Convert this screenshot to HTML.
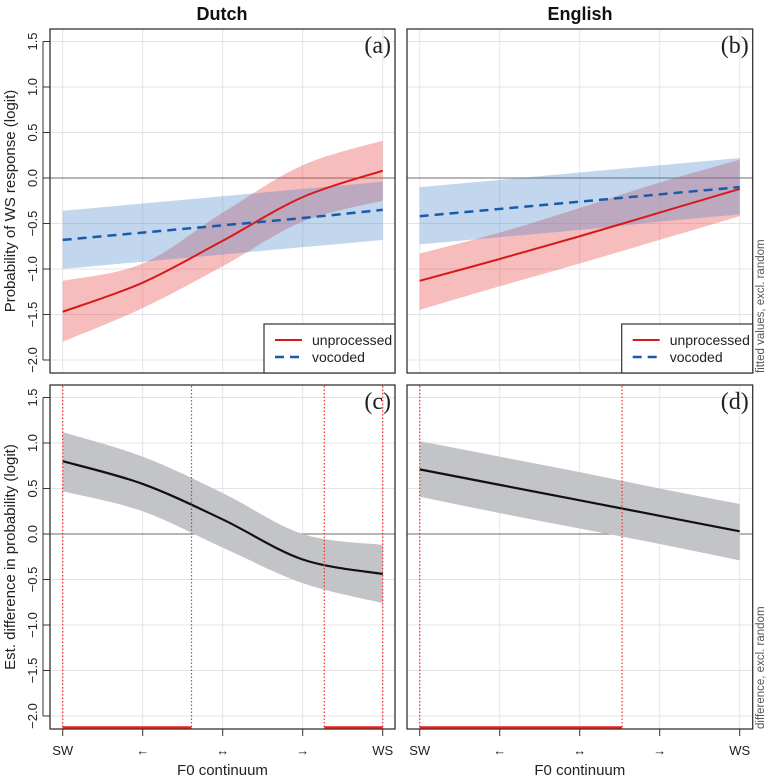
<!DOCTYPE html>
<html><head><meta charset="utf-8"><style>
html,body{margin:0;padding:0;background:#fff;}
svg{display:block;font-family:"Liberation Sans",sans-serif;}
</style></head><body>
<svg id="chart" width="770" height="778" viewBox="0 0 770 778"></svg>
<script>
// ---- data ----
const xCategories = ["SW","\u2190","\u2194","\u2192","WS"];
const yTicks = [1.5,1.0,0.5,0.0,-0.5,-1.0,-1.5,-2.0];
const yTickLabels = ["1.5","1.0","0.5","0.0","\u22120.5","\u22121.0","\u22121.5","\u22122.0"];
// Dutch (a)
const dutchUnproc = [-1.47,-1.15,-0.69,-0.21,0.08];
const dutchUnprocHi = [-1.13,-0.94,-0.38,0.14,0.41];
const dutchUnprocLo = [-1.80,-1.43,-0.97,-0.48,-0.25];
const dutchVoc = [-0.68,-0.60,-0.52,-0.44,-0.35];
const dutchVocHi = [-0.36,-0.28,-0.20,-0.12,-0.04];
const dutchVocLo = [-1.00,-0.92,-0.84,-0.76,-0.68];
// English (b)
const engUnproc = [-1.13,-0.89,-0.64,-0.38,-0.12];
const engUnprocHi = [-0.83,-0.60,-0.33,-0.05,0.20];
const engUnprocLo = [-1.45,-1.19,-0.94,-0.68,-0.42];
const engVoc = [-0.42,-0.34,-0.26,-0.18,-0.10];
const engVocHi = [-0.10,-0.02,0.06,0.14,0.22];
const engVocLo = [-0.73,-0.65,-0.57,-0.48,-0.40];
// Dutch difference (c)
const dutchDiff = [0.80,0.55,0.16,-0.28,-0.44];
const dutchDiffHi = [1.12,0.85,0.45,0.00,-0.12];
const dutchDiffLo = [0.47,0.25,-0.15,-0.54,-0.76];
const dutchSigMarks = [0,1.61,3.27,4];
const dutchSigSegments = [[0,1.61],[3.27,4]];
// English difference (d)
const engDiff = [0.71,0.54,0.37,0.20,0.03];
const engDiffHi = [1.02,0.85,0.68,0.50,0.33];
const engDiffLo = [0.41,0.23,0.06,-0.11,-0.29];
const engSigMarks = [0,2.53];
const engSigSegments = [[0,2.53]];

const NS="http://www.w3.org/2000/svg";
const svg=document.getElementById('chart');
function el(tag,attrs,parent,text){const e=document.createElementNS(NS,tag);for(const k in attrs)e.setAttribute(k,attrs[k]);if(text!==undefined)e.textContent=text;(parent||svg).appendChild(e);return e;}

const panels={
 a:{x0:50,x1:395,y0:29,y1:373},
 b:{x0:407,x1:752.7,y0:29,y1:373},
 c:{x0:50,x1:395,y0:385,y1:729},
 d:{x0:407,x1:752.7,y0:385,y1:729}
};
function xs(p,v){return p.x0+12.7+v*80;}
function ys(p,v){return (p.y0+149)-v*91;}

function smoothPath(pts){
  let d=`M${pts[0][0]},${pts[0][1]}`;
  for(let i=0;i<pts.length-1;i++){
    const p0=pts[i-1]||pts[i],p1=pts[i],p2=pts[i+1],p3=pts[i+2]||p2;
    const c1=[p1[0]+(p2[0]-p0[0])/6,p1[1]+(p2[1]-p0[1])/6];
    const c2=[p2[0]-(p3[0]-p1[0])/6,p2[1]-(p3[1]-p1[1])/6];
    d+=` C${c1[0]},${c1[1]} ${c2[0]},${c2[1]} ${p2[0]},${p2[1]}`;
  }
  return d;
}
function pts(p,arr){return arr.map((v,i)=>[xs(p,i),ys(p,v)]);}
function band(p,hi,lo,fill,name,g){
  const up=pts(p,hi),dn=pts(p,lo).reverse();
  const sd=smoothPath(dn);
  const d=smoothPath(up)+' L'+dn[0][0]+','+dn[0][1]+sd.slice(sd.indexOf(' C'))+' Z';
  const e=el('path',{d:d,fill:fill,stroke:'none'},g);
  
  
}
function line(p,arr,color,w,dash,name,g){
  const a={d:smoothPath(pts(p,arr)),fill:'none',stroke:color,'stroke-width':w};
  if(dash)a['stroke-dasharray']=dash;
  const e=el('path',a,g);
  
  
}

const defs=el('defs',{});
for(const k in panels){const p=panels[k];const cp=el('clipPath',{id:'clip-'+k},defs);el('rect',{x:p.x0,y:p.y0,width:p.x1-p.x0,height:p.y1-p.y0},cp);}

function drawPanel(k){
  const p=panels[k];
  const g=el('g',{'clip-path':`url(#clip-${k})`});
  
  
  xCategories.forEach((c,i)=>{const x=xs(p,i);const gl=el('line',{x1:x,x2:x,y1:p.y0,y2:p.y1,stroke:'#e4e4e8','stroke-width':1},g);
    });
  yTicks.forEach(v=>{const y=ys(p,v);const gl=el('line',{x1:p.x0,x2:p.x1,y1:y,y2:y,stroke:'#e4e4e8','stroke-width':1},g);
    });
  const z=el('line',{x1:p.x0,x2:p.x1,y1:ys(p,0),y2:ys(p,0),stroke:'#8a8a8a','stroke-width':1.3},g);
  
  return g;
}
function frame(k,label){
  const p=panels[k];
  const r=el('rect',{x:p.x0,y:p.y0,width:p.x1-p.x0,height:p.y1-p.y0,fill:'none',stroke:'#333','stroke-width':1.3});
  
  const t=el('text',{x:p.x1-4,y:p.y0+24,'text-anchor':'end','font-family':'"Liberation Serif",serif','font-size':24,fill:'#222'},svg,label);
  
}
function legend(k){
  const p=panels[k];
  const g=el('g',{});
  
  el('rect',{x:p.x1-131,y:p.y1-49,width:131,height:49,fill:'#fff',stroke:'#333','stroke-width':1.2},g);
  const a=el('line',{x1:p.x1-120,x2:p.x1-93,y1:p.y1-33,y2:p.y1-33,stroke:'#d7191c','stroke-width':2},g);
  
  const t1=el('text',{x:p.x1-83,y:p.y1-28,'font-size':14,fill:'#222'},g,'unprocessed');
  
  const b=el('line',{x1:p.x1-120,x2:p.x1-93,y1:p.y1-16,y2:p.y1-16,stroke:'#1a5aab','stroke-width':2.5,'stroke-dasharray':'9,6'},g);
  
  const t2=el('text',{x:p.x1-83,y:p.y1-11,'font-size':14,fill:'#222'},g,'vocoded');
  
}
function sig(k,marks,segs){
  const p=panels[k];const g=el('g',{});
  
  marks.forEach(m=>{const l=el('line',{x1:xs(p,m),x2:xs(p,m),y1:p.y0+1,y2:p.y1-1,stroke:'#ff2a2a','stroke-width':1.2,'stroke-dasharray':'1.5,2'},g);
    });
  segs.forEach(s=>{const l=el('line',{x1:xs(p,s[0]),x2:xs(p,s[1]),y1:p.y1-1.5,y2:p.y1-1.5,stroke:'#ee1c1c','stroke-width':2.5},g);
    });
}

const RB='rgba(232,70,70,0.36)', BB='rgba(70,130,200,0.33)';
let g=drawPanel('a');
band(panels.a,dutchUnprocHi,dutchUnprocLo,RB,'band-dutch-unprocessed',g);
band(panels.a,dutchVocHi,dutchVocLo,BB,'band-dutch-vocoded',g);
line(panels.a,dutchUnproc,'#d7191c',2,null,'line-dutch-unprocessed',g);
line(panels.a,dutchVoc,'#1a5aab',2.5,'9,6','line-dutch-vocoded',g);
g=drawPanel('b');
band(panels.b,engUnprocHi,engUnprocLo,RB,'band-english-unprocessed',g);
band(panels.b,engVocHi,engVocLo,BB,'band-english-vocoded',g);
line(panels.b,engUnproc,'#d7191c',2,null,'line-english-unprocessed',g);
line(panels.b,engVoc,'#1a5aab',2.5,'9,6','line-english-vocoded',g);
g=drawPanel('c');
band(panels.c,dutchDiffHi,dutchDiffLo,'#c3c4c8','band-dutch-difference',g);
line(panels.c,dutchDiff,'#111',2.2,null,'line-dutch-difference',g);
g=drawPanel('d');
band(panels.d,engDiffHi,engDiffLo,'#c3c4c8','band-english-difference',g);
line(panels.d,engDiff,'#111',2.2,null,'line-english-difference',g);
frame('a','(a)');frame('b','(b)');frame('c','(c)');frame('d','(d)');
sig('c',dutchSigMarks,dutchSigSegments);
sig('d',engSigMarks,engSigSegments);
legend('a');legend('b');

['a','c'].forEach(k=>{const p=panels[k];
  const ax=el('g',{});
  el('line',{x1:p.x0-7,x2:p.x0-7,y1:ys(p,1.5),y2:ys(p,-2),stroke:'#333','stroke-width':1},ax);
  yTicks.forEach((v,i)=>{const y=ys(p,v);
    el('line',{x1:p.x0-7,x2:p.x0,y1:y,y2:y,stroke:'#333','stroke-width':1},ax);
    const t=el('text',{x:0,y:0,transform:`translate(37,${y}) rotate(-90)`,'text-anchor':'middle','font-size':13,fill:'#222'},ax,yTickLabels[i]);
    });
});
['c','d'].forEach(k=>{const p=panels[k];
  const ax=el('g',{});
  el('line',{x1:xs(p,0),x2:xs(p,4),y1:p.y1,y2:p.y1,stroke:'#333','stroke-width':1},ax);
  xCategories.forEach((c,i)=>{const x=xs(p,i);
    el('line',{x1:x,x2:x,y1:p.y1,y2:p.y1+7,stroke:'#333','stroke-width':1},ax);
    const t=el('text',{x:x,y:755,'text-anchor':'middle','font-size':13,fill:'#222'},ax,c);
    });
  const tt=el('text',{x:(p.x0+p.x1)/2,y:775,'text-anchor':'middle','font-size':15,fill:'#222'},ax,'F0 continuum');
  
});

function T(x,y,txt,attrs,name){const e=el('text',Object.assign({x:x,y:y},attrs),svg,txt);
  
  }
T(222,20,'Dutch',{'text-anchor':'middle','font-size':18,'font-weight':'bold',fill:'#111'},'title-dutch');
T(580,20,'English',{'text-anchor':'middle','font-size':18,'font-weight':'bold',fill:'#111'},'title-english');
T(0,0,'Probability of WS response (logit)',{'text-anchor':'middle','font-size':15,fill:'#222',transform:'translate(15,201) rotate(-90)'},'y-axis-title-top');
T(0,0,'Est. difference in probability (logit)',{'text-anchor':'middle','font-size':15,fill:'#222',transform:'translate(15,557) rotate(-90)'},'y-axis-title-bottom');
T(0,0,'fitted values, excl. random',{'text-anchor':'start','font-size':11.5,fill:'#555',transform:'translate(764,373) rotate(-90)'},'side-note-top');
T(0,0,'difference, excl. random',{'text-anchor':'start','font-size':11.5,fill:'#555',transform:'translate(764,729) rotate(-90)'},'side-note-bottom');
</script>
</body></html>
